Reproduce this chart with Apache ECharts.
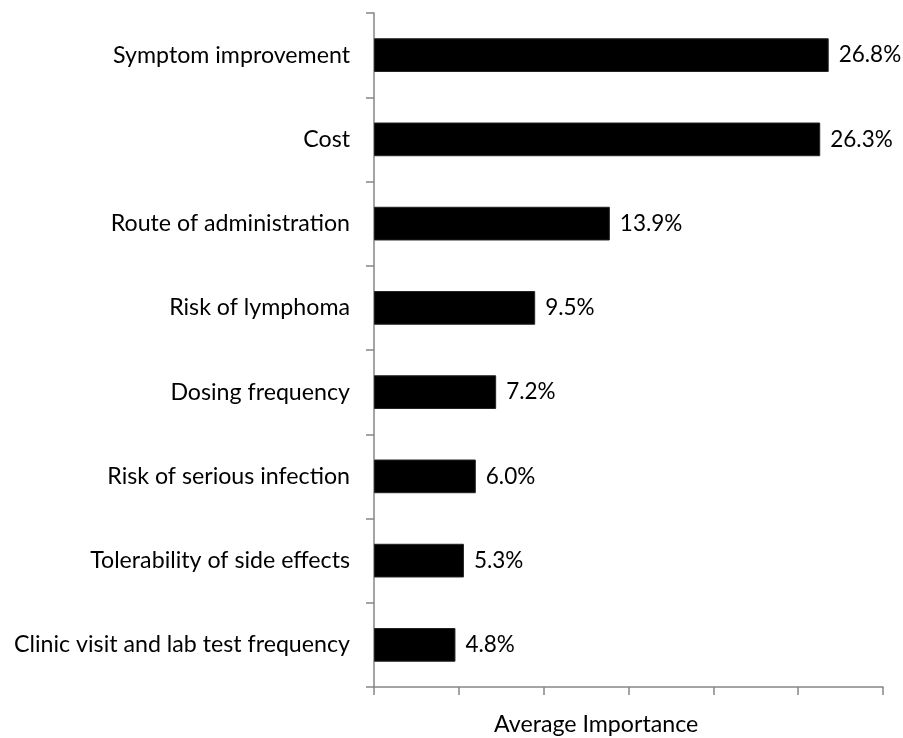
<!DOCTYPE html>
<html>
<head>
<meta charset="utf-8">
<script src="https://cdn.jsdelivr.net/npm/echarts@6/dist/echarts.min.js"></script>
<style>html,body{margin:0;padding:0;background:#fff}#c{width:903px;height:738px}</style>
</head>
<body>
<div id="c"></div>
<script>
var categories = ["Symptom improvement","Cost","Route of administration","Risk of lymphoma","Dosing frequency","Risk of serious infection","Tolerability of side effects","Clinic visit and lab test frequency"];
var values = [26.8, 26.3, 13.9, 9.5, 7.2, 6.0, 5.3, 4.8];
var axisName = "Average Importance";

var chart = echarts.init(document.getElementById('c'));
var font = 'Lato, "Open Sans", sans-serif';
chart.setOption({
  animation: false,
  grid: {left: 374, right: 20, top: 13, bottom: 51, containLabel: false},
  graphic: [{
    type: 'text', left: 494, top: 713,
    style: {text: axisName, fontFamily: font, fontSize: 23.2, fill: '#000'}
  }],
  xAxis: {
    type: 'value', min: 0, max: 30, interval: 5,
    axisLine: {show: true, lineStyle: {color: '#868686', width: 1.5}},
    axisTick: {show: true, length: 8, lineStyle: {color: '#868686', width: 1.5}},
    axisLabel: {show: false},
    splitLine: {show: false}
  },
  yAxis: {
    type: 'category', data: categories, inverse: true,
    axisLine: {show: true, lineStyle: {color: '#868686', width: 1.5}},
    axisTick: {show: true, length: 8, alignWithLabel: false, lineStyle: {color: '#868686', width: 1.5}},
    axisLabel: {fontFamily: font, fontSize: 23.2, color: '#000', margin: 24},
    splitLine: {show: false}
  },
  series: [{
    type: 'bar', data: values, barWidth: '40%',
    itemStyle: {color: '#000', borderColor: '#222', borderWidth: 1},
    label: {show: true, position: 'right', distance: 10, fontFamily: font, fontSize: 22.5, color: '#000',
      formatter: function(p){ return p.value.toFixed(1) + '%'; }}
  }]
});
</script>
</body>
</html>
